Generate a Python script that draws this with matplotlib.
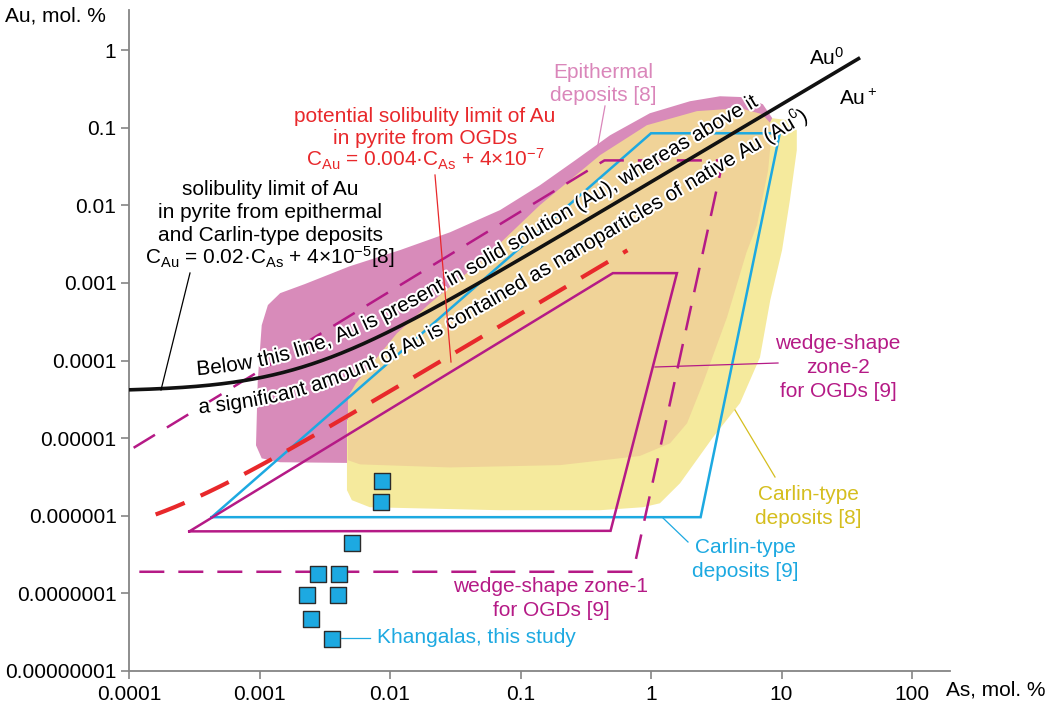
import numpy as np
import matplotlib
matplotlib.use("Agg")
import matplotlib.pyplot as plt
from matplotlib.font_manager import FontProperties
from matplotlib.lines import Line2D
from matplotlib.transforms import IdentityTransform
import matplotlib.patheffects as pe

plt.rcParams['font.family'] = ['Liberation Sans', 'DejaVu Sans']
plt.rcParams['mathtext.fontset'] = 'custom'
plt.rcParams['mathtext.rm'] = 'Liberation Sans'
plt.rcParams['mathtext.it'] = 'Liberation Sans:italic'
plt.rcParams['mathtext.bf'] = 'Liberation Sans:bold'
plt.rcParams['mathtext.sf'] = 'Liberation Sans'

# ---------------- data ----------------
x_ticks = [1e-4, 1e-3, 1e-2, 1e-1, 1, 10, 100]
x_tick_labels = ["0.0001", "0.001", "0.01", "0.1", "1", "10", "100"]
y_ticks = [1e-8, 1e-7, 1e-6, 1e-5, 1e-4, 1e-3, 1e-2, 1e-1, 1]
y_tick_labels = ["0.00000001", "0.0000001", "0.000001", "0.00001", "0.0001",
                 "0.001", "0.01", "0.1", "1"]

# solubility limits, C_Au = slope * C_As + const
carlin_slope, carlin_const = 0.02, 4e-5
carlin_as_range = (1e-4, 40.0)
ogd_slope, ogd_const = 0.004, 4e-7
ogd_as_range = (1.6e-4, 0.66)

# Khangalas pyrite
khangalas_as = [8.7e-3, 8.5e-3, 5.1e-3, 2.8e-3, 4.1e-3, 2.3e-3, 4.0e-3, 2.5e-3, 3.6e-3]
khangalas_au = [2.8e-6, 1.5e-6, 4.4e-7, 1.8e-7, 1.8e-7, 9.5e-8, 9.5e-8, 4.7e-8, 2.6e-8]

# epithermal deposits field [8]
epithermal_as = [9.4e-4, 1.04e-3, 1.44e-3, 4.9e-3, 2.9e-2, 2.37, 8.2, 8.5, 7.2, 5.25,
                 3.38, 1.99, 0.98, 0.485, 0.262, 0.141, 0.0697, 0.0288, 0.0119,
                 4.9e-3, 2.23e-3, 1.44e-3, 1.16e-3, 1.04e-3, 9.7e-4]
epithermal_au = [8.1e-6, 5.5e-6, 4.9e-6, 4.8e-6, 3.1e-5, 2.65e-3, 0.108, 0.133, 0.201,
                 0.248, 0.255, 0.220, 0.154, 0.080, 0.038, 0.0182, 8.7e-3, 4.5e-3,
                 2.65e-3, 1.64e-3, 9.7e-4, 7.4e-4, 5.2e-4, 2.86e-4, 5.6e-5]

# Carlin-type deposits field [8]
carlin8_as = [4.68e-3, 4.68e-3, 5.1e-3, 7.0e-3, 0.0697, 0.406, 0.87, 1.17, 1.67, 2.99,
              4.81, 6.84, 8.2, 10.1, 11.6, 13.1, 13.1, 11.2, 8.5, 2.37, 0.0697, 5.9e-3]
carlin8_au = [1.7e-5, 2.14e-6, 1.59e-6, 1.29e-6, 1.18e-6, 1.18e-6, 1.29e-6, 1.45e-6,
              2.63e-6, 1.03e-5, 2.83e-5, 1.1e-4, 6.0e-4, 2.65e-3, 0.0117, 0.0515,
              0.093, 0.125, 0.133, 2.65e-3, 5.6e-5, 2.3e-5]

# overlap of the epithermal and Carlin-type fields
overlap_as = [4.76e-3, 4.76e-3, 5.48e-3, 0.0113, 0.0203, 0.049, 0.141, 0.406, 0.93, 2.25,
              4.81, 7.1, 8.5, 7.9, 6.5, 5.4, 3.82, 2.5, 1.89, 1.40, 0.82, 0.201,
              0.0288, 5.9e-3]
overlap_au = [5.2e-6, 3.4e-5, 5.1e-5, 2.25e-4, 5.5e-4, 1.85e-3, 0.0101, 0.0443, 0.108,
              0.164, 0.179, 0.150, 0.108, 0.0284, 5.6e-3, 2.5e-3, 3.6e-4, 5.1e-5,
              1.56e-5, 8.6e-6, 5.9e-6, 4.5e-6, 4.2e-6, 4.6e-6]

# Carlin-type deposits outline [9]
carlin9_as = [4.3e-4, 1.0, 9.7, 2.4, 4.3e-4]
carlin9_au = [9.6e-7, 0.085, 0.085, 9.6e-7, 9.6e-7]

# wedge-shape zone-2 for OGDs [9]
zone2_as = [2.9e-4, 0.51, 1.58, 0.49, 2.9e-4]
zone2_au = [6.3e-7, 1.34e-3, 1.34e-3, 6.4e-7, 6.3e-7]

# wedge-shape zone-1 for OGDs [9]
zone1_as = [1.2e-4, 0.73, 3.56, 0.44, 8e-5]
zone1_au = [1.9e-7, 1.9e-7, 0.038, 0.038, 5.5e-6]

# ---------------- colours ----------------
PINK = '#D88BBA'
TAN = '#F0D398'
YELLOW = '#F5EA9D'
BLUE = '#1DA9E1'
MAGENTA = '#B51A86'
RED = '#E8282B'
PINK_TXT = '#DA86BA'
YELLOW_TXT = '#D5BE1E'
AXIS_GREY = '#858585'

# ---------------- figure ----------------
W, H = 1050, 703
fig = plt.figure(figsize=(W / 100, H / 100), dpi=100)
ax = fig.add_axes([129 / W, 1 - 671 / H, 821 / W, 661 / H])
ax.set_xscale('log')
ax.set_yscale('log')
ax.set_xlim(1e-4, 10 ** (821 / 130.5 - 4))
ax.set_ylim(1e-8, 10 ** (661 / 77.6 - 8))

for s in ('top', 'right'):
    ax.spines[s].set_visible(False)
for s in ('left', 'bottom'):
    ax.spines[s].set_color(AXIS_GREY)
    ax.spines[s].set_linewidth(1.3)
ax.set_xticks(x_ticks)
ax.set_xticklabels(x_tick_labels)
ax.set_yticks(y_ticks)
ax.set_yticklabels(y_tick_labels)
ax.minorticks_off()
ax.tick_params(direction='out', length=6, width=1.2, color=AXIS_GREY,
               labelsize=15, pad=3)
ax.tick_params(axis='x', pad=4)


def fxy(x, y):
    """figure pixel (from top-left) -> figure fraction"""
    return x / W, 1 - y / H


# fields
ax.fill(epithermal_as, epithermal_au, color=PINK, lw=0, zorder=1)
ax.fill(carlin8_as, carlin8_au, color=YELLOW, lw=0, zorder=2)
ax.fill(overlap_as, overlap_au, color=TAN, lw=0, zorder=3)

# outlines
ax.plot(carlin9_as, carlin9_au, color=BLUE, lw=1.8, zorder=4, solid_joinstyle='miter')
ax.plot(zone2_as, zone2_au, color=MAGENTA, lw=1.8, zorder=4, solid_joinstyle='miter')
ax.plot(zone1_as, zone1_au, color=MAGENTA, lw=1.8, zorder=4, dashes=(10, 5.6))

# solubility lines
ogd_as = np.logspace(np.log10(ogd_as_range[0]), np.log10(ogd_as_range[1]), 300)
ax.plot(ogd_as, ogd_slope * ogd_as + ogd_const, color=RED, lw=3.0,
        dashes=(7.5, 4.2), zorder=5)
carlin_as = np.logspace(np.log10(carlin_as_range[0]), np.log10(carlin_as_range[1]), 600)
carlin_au = carlin_slope * carlin_as + carlin_const
ax.plot(carlin_as, carlin_au, color='#111111', lw=2.6, zorder=6,
        solid_capstyle='butt')

# Khangalas samples
ax.scatter(khangalas_as, khangalas_au, marker='s', s=125, c=BLUE,
           edgecolors='#2b2b2b', linewidths=1.0, zorder=10)


# ------------- text running along the solubility curve -------------
def curved_text(pieces, start_x, offset, size):
    fig.canvas.draw()
    renderer = fig.canvas.get_renderer()
    pts = ax.transData.transform(np.column_stack([carlin_as, carlin_au]))
    d = np.diff(pts, axis=0)
    ang = np.arctan2(d[:, 1], d[:, 0])
    ang = np.concatenate([ang, ang[-1:]])
    nrm = np.column_stack([-np.sin(ang), np.cos(ang)])
    opts = pts + offset * nrm
    seg = np.hypot(*np.diff(opts, axis=0).T)
    arc = np.concatenate([[0], np.cumsum(seg)])
    pos = np.interp(start_x, opts[:, 0], arc)
    halo = [pe.withStroke(linewidth=3, foreground='white')]
    for chunk, raised in pieces:
        prop = FontProperties(family='Liberation Sans',
                              size=size * (0.68 if raised else 1.0))
        ref = renderer.get_text_width_height_descent('|', prop, ismath=False)[0]
        for i, ch in enumerate(chunk):
            adv = renderer.get_text_width_height_descent(
                chunk[:i] + '|', prop, ismath=False)[0] - ref
            p = pos + adv
            x = np.interp(p, arc, opts[:, 0])
            y = np.interp(p, arc, opts[:, 1])
            a = np.interp(p, arc, ang)
            if raised:
                lift = size * 0.42 * 100 / 72
                x -= np.sin(a) * lift
                y += np.cos(a) * lift
            if ch != ' ':
                fig.text(x, y, ch, transform=IdentityTransform(), fontproperties=prop,
                         rotation=np.degrees(a), rotation_mode='anchor',
                         ha='left', va='baseline', color='black',
                         path_effects=halo, zorder=8)
        pos += renderer.get_text_width_height_descent(chunk + '|', prop,
                                                     ismath=False)[0] - ref


curved_text([("Below this line, Au is present in solid solution (Au), whereas above it",
              False)], 197, 11, 15)
curved_text([("a significant amount of Au is contained as nanoparticles of native Au (Au",
              False), ("0", True), (")", False)], 199, -27, 15)

# ------------- labels -------------
FS = 15
fig.text(*fxy(106, 21), "Au, mol. %", ha='right', va='baseline', fontsize=FS)
fig.text(*fxy(946, 690), "As, mol. %", ha='left', va='center', fontsize=FS)
fig.text(*fxy(809, 65), "Au$^0$", ha='left', va='baseline', fontsize=FS)
fig.text(*fxy(839, 105), "Au$^+$", ha='left', va='baseline', fontsize=FS)

black_lines = ["solibulity limit of Au", "in pyrite from epithermal",
               "and Carlin-type deposits",
               r"C$_{\mathrm{Au}}$ = 0.02·C$_{\mathrm{As}}$ + 4×10$^{-5}$[8]"]
for txt, yb in zip(black_lines, [195, 218, 241, 264]):
    fig.text(*fxy(270, yb), txt, ha='center', va='baseline', fontsize=FS)

red_lines = ["potential solibulity limit of Au", "in pyrite from OGDs",
             r"C$_{\mathrm{Au}}$ = 0.004·C$_{\mathrm{As}}$ + 4×10$^{-7}$"]
for txt, yb in zip(red_lines, [122, 144, 166]):
    fig.text(*fxy(425, yb), txt, ha='center', va='baseline', fontsize=FS, color=RED)

for txt, yb in zip(["Epithermal", "deposits [8]"], [78, 101]):
    fig.text(*fxy(603, yb), txt, ha='center', va='baseline', fontsize=FS, color=PINK_TXT)

for txt, yb in zip(["wedge-shape", "zone-2", "for OGDs [9]"], [349, 373, 397]):
    fig.text(*fxy(838, yb), txt, ha='center', va='baseline', fontsize=FS, color=MAGENTA)

for txt, yb in zip(["Carlin-type", "deposits [8]"], [500, 524]):
    fig.text(*fxy(808, yb), txt, ha='center', va='baseline', fontsize=FS, color=YELLOW_TXT)

for txt, yb in zip(["Carlin-type", "deposits [9]"], [553, 577]):
    fig.text(*fxy(745, yb), txt, ha='center', va='baseline', fontsize=FS, color=BLUE)

for txt, yb in zip(["wedge-shape zone-1", "for OGDs [9]"], [592, 616]):
    fig.text(*fxy(551, yb), txt, ha='center', va='baseline', fontsize=FS, color=MAGENTA)

fig.text(*fxy(377, 643), "Khangalas, this study", ha='left', va='baseline',
         fontsize=FS, color=BLUE)


# leader lines
def leader(x1, y1, x2, y2, color, lw=0.9):
    (a, b), (c, d) = fxy(x1, y1), fxy(x2, y2)
    fig.add_artist(Line2D([a, c], [b, d], color=color, lw=lw, zorder=9))


leader(190, 273, 161, 390, 'black')
leader(435, 175, 451, 362, RED)
leader(605, 106, 597, 150, PINK_TXT)
leader(655, 367, 778, 363, MAGENTA)
leader(735, 410, 775, 477, YELLOW_TXT)
leader(663, 518, 688, 542, BLUE)
leader(341, 638, 370, 638, BLUE)

fig.savefig("out.png", dpi=100)
